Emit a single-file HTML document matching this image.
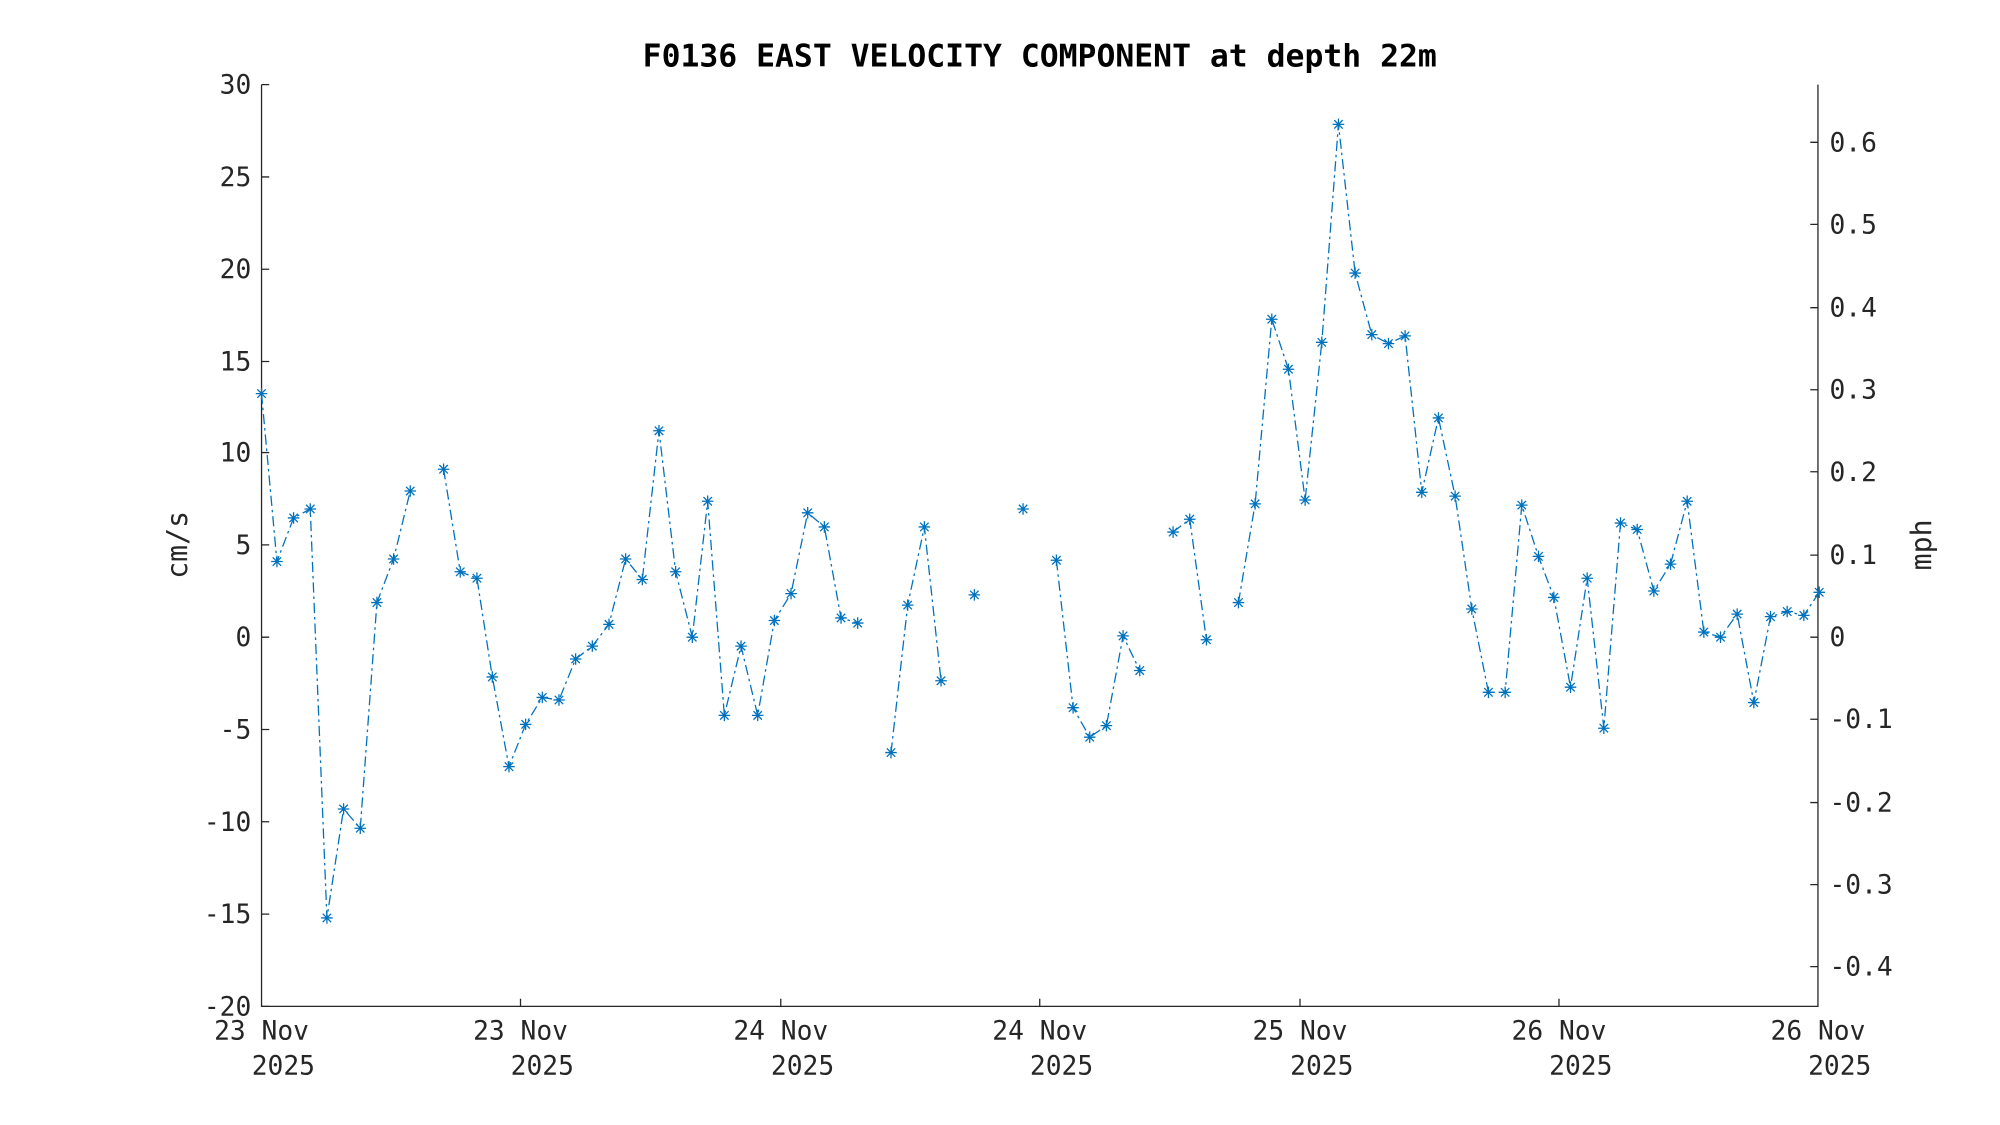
<!DOCTYPE html>
<html><head><meta charset="utf-8"><style>html,body{margin:0;padding:0;background:#fff}svg{display:block}</style></head>
<body>
<svg width="2000" height="1125" viewBox="0 0 1560 877.5" xmlns="http://www.w3.org/2000/svg" font-family="'DejaVu Sans Mono','Liberation Mono',monospace">
<rect width="1560" height="877.5" fill="#fff"/>
<text x="811" y="52" text-anchor="middle" font-size="24.5" font-weight="bold" fill="#000">F0136 EAST VELOCITY COMPONENT at depth 22m</text>
<g stroke="#262626" stroke-width="1" fill="none">
<path d="M204,66V785H1418V66"/>
<path d="M204,66h6M204,138h6M204,210h6M204,282h6M204,353h6M204,425h6M204,497h6M204,569h6M204,641h6M204,713h6M204,785h6"/>
<path d="M406,785v-6M609,785v-6M811,785v-6M1014,785v-6M1216,785v-6"/>
<path d="M1418,111h-6M1418,175h-6M1418,240h-6M1418,304h-6M1418,368h-6M1418,433h-6M1418,497h-6M1418,561h-6M1418,626h-6M1418,690h-6M1418,754h-6"/>
</g>
<g font-size="20.5" fill="#262626" text-anchor="end">
<text x="196" y="73">30</text><text x="196" y="145">25</text><text x="196" y="217">20</text><text x="196" y="289">15</text><text x="196" y="360">10</text><text x="196" y="432">5</text><text x="196" y="504">0</text><text x="196" y="576">-5</text><text x="196" y="648">-10</text><text x="196" y="720">-15</text><text x="196" y="792">-20</text>
</g>
<g font-size="20.5" fill="#262626">
<text x="1427" y="118">0.6</text><text x="1427" y="182">0.5</text><text x="1427" y="247">0.4</text><text x="1427" y="311">0.3</text><text x="1427" y="375">0.2</text><text x="1427" y="440">0.1</text><text x="1427" y="504">0</text><text x="1427" y="568">-0.1</text><text x="1427" y="633">-0.2</text><text x="1427" y="697">-0.3</text><text x="1427" y="761">-0.4</text>
</g>
<g font-size="20.5" fill="#262626" text-anchor="middle">
<text x="204" y="811">23 Nov</text><text x="221" y="838">2025</text>
<text x="406" y="811">23 Nov</text><text x="423" y="838">2025</text>
<text x="609" y="811">24 Nov</text><text x="626" y="838">2025</text>
<text x="811" y="811">24 Nov</text><text x="828" y="838">2025</text>
<text x="1014" y="811">25 Nov</text><text x="1031" y="838">2025</text>
<text x="1216" y="811">26 Nov</text><text x="1233" y="838">2025</text>
<text x="1418" y="811">26 Nov</text><text x="1435" y="838">2025</text>
</g>
<text transform="translate(146,425) rotate(-90)" text-anchor="middle" font-size="22" fill="#262626">cm/s</text>
<text transform="translate(1506,425) rotate(-90)" text-anchor="middle" font-size="22" fill="#262626">mph</text>
<g stroke="#0072BD" stroke-width="1" fill="none" stroke-dasharray="8,3,2,3">
<polyline points="204,307 216,438 229,404 242,397 255,716 268,631 281,646 294,470 307,436 320,383"/>
<polyline points="346,366 359,446 372,451 384,528 397,598 410,565 423,544 436,546 449,514 462,504 475,487 488,436 501,452 514,336 527,446 540,497 552,391 565,558 578,504 591,558 604,484 617,463 630,400 643,411 656,482 669,486"/>
<polyline points="695,587 708,472 721,411 734,531"/>
<polyline points="824,437 837,552 850,575 863,566 876,496 889,523"/>
<polyline points="915,415 928,405 941,499"/>
<polyline points="966,470 979,393 992,249 1005,288 1018,390 1031,267 1044,97 1057,213 1070,261 1083,268 1096,262 1109,384 1122,326 1135,387 1148,475 1161,540 1174,540 1187,394 1200,434 1212,466 1225,536 1238,451 1251,568 1264,408 1277,413 1290,461 1303,440 1316,391 1329,493 1342,497 1355,479 1368,548 1381,481 1394,477 1407,480 1419,462"/>
</g>
<defs><path id="m" d="M-4.5,0H4.5M0,-4.5V4.5M-3.3,-3.3L3.3,3.3M-3.3,3.3L3.3,-3.3" stroke="#0072BD" stroke-width="1"/></defs>
<g>
<use href="#m" x="204" y="307"/><use href="#m" x="216" y="438"/><use href="#m" x="229" y="404"/><use href="#m" x="242" y="397"/><use href="#m" x="255" y="716"/><use href="#m" x="268" y="631"/><use href="#m" x="281" y="646"/><use href="#m" x="294" y="470"/><use href="#m" x="307" y="436"/><use href="#m" x="320" y="383"/>
<use href="#m" x="346" y="366"/><use href="#m" x="359" y="446"/><use href="#m" x="372" y="451"/><use href="#m" x="384" y="528"/><use href="#m" x="397" y="598"/><use href="#m" x="410" y="565"/><use href="#m" x="423" y="544"/><use href="#m" x="436" y="546"/><use href="#m" x="449" y="514"/><use href="#m" x="462" y="504"/><use href="#m" x="475" y="487"/><use href="#m" x="488" y="436"/><use href="#m" x="501" y="452"/><use href="#m" x="514" y="336"/><use href="#m" x="527" y="446"/><use href="#m" x="540" y="497"/><use href="#m" x="552" y="391"/><use href="#m" x="565" y="558"/><use href="#m" x="578" y="504"/><use href="#m" x="591" y="558"/><use href="#m" x="604" y="484"/><use href="#m" x="617" y="463"/><use href="#m" x="630" y="400"/><use href="#m" x="643" y="411"/><use href="#m" x="656" y="482"/><use href="#m" x="669" y="486"/>
<use href="#m" x="695" y="587"/><use href="#m" x="708" y="472"/><use href="#m" x="721" y="411"/><use href="#m" x="734" y="531"/><use href="#m" x="760" y="464"/><use href="#m" x="798" y="397"/>
<use href="#m" x="824" y="437"/><use href="#m" x="837" y="552"/><use href="#m" x="850" y="575"/><use href="#m" x="863" y="566"/><use href="#m" x="876" y="496"/><use href="#m" x="889" y="523"/>
<use href="#m" x="915" y="415"/><use href="#m" x="928" y="405"/><use href="#m" x="941" y="499"/>
<use href="#m" x="966" y="470"/><use href="#m" x="979" y="393"/><use href="#m" x="992" y="249"/><use href="#m" x="1005" y="288"/><use href="#m" x="1018" y="390"/><use href="#m" x="1031" y="267"/><use href="#m" x="1044" y="97"/><use href="#m" x="1057" y="213"/><use href="#m" x="1070" y="261"/><use href="#m" x="1083" y="268"/><use href="#m" x="1096" y="262"/><use href="#m" x="1109" y="384"/><use href="#m" x="1122" y="326"/><use href="#m" x="1135" y="387"/><use href="#m" x="1148" y="475"/><use href="#m" x="1161" y="540"/><use href="#m" x="1174" y="540"/><use href="#m" x="1187" y="394"/><use href="#m" x="1200" y="434"/><use href="#m" x="1212" y="466"/><use href="#m" x="1225" y="536"/><use href="#m" x="1238" y="451"/><use href="#m" x="1251" y="568"/><use href="#m" x="1264" y="408"/><use href="#m" x="1277" y="413"/><use href="#m" x="1290" y="461"/><use href="#m" x="1303" y="440"/><use href="#m" x="1316" y="391"/><use href="#m" x="1329" y="493"/><use href="#m" x="1342" y="497"/><use href="#m" x="1355" y="479"/><use href="#m" x="1368" y="548"/><use href="#m" x="1381" y="481"/><use href="#m" x="1394" y="477"/><use href="#m" x="1407" y="480"/><use href="#m" x="1419" y="462"/>
</g>
</svg>
</body></html>
